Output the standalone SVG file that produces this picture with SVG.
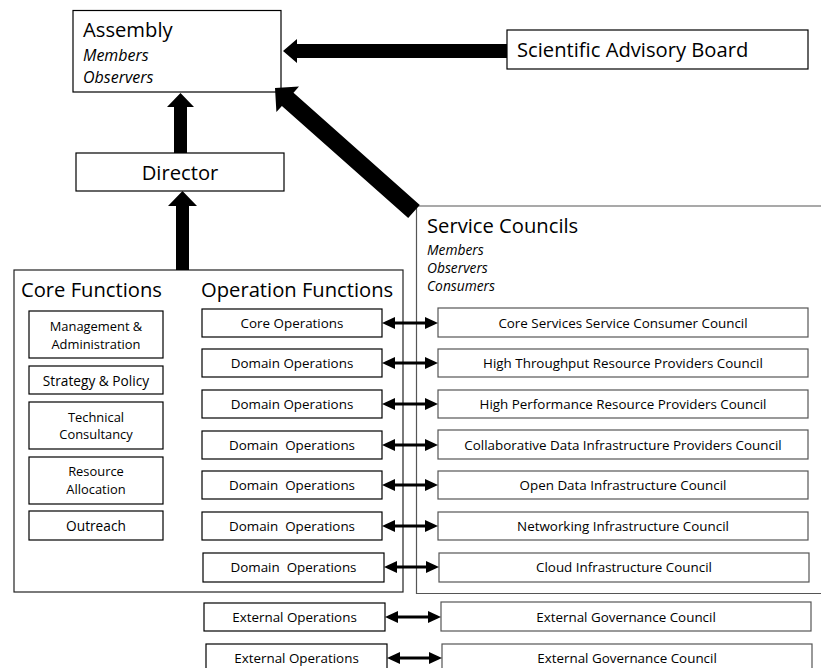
<svg xmlns="http://www.w3.org/2000/svg" width="821" height="668" viewBox="0 0 821 668">
<defs>
<style>
.bx{fill:#fff;stroke:#000;stroke-width:1.2}
.gb{fill:#fff;stroke:#555;stroke-width:1.2}
.ob{fill:none;stroke:#222;stroke-width:1.2}
.t{font-family:"Open Sans","Liberation Sans",sans-serif;fill:#000}
.h{font-size:20.2px}
.s{font-size:13.4px;text-anchor:middle}
.l{font-size:13.7px;text-anchor:middle}
.l2{font-size:12.9px;text-anchor:middle}
.i{font-style:italic}
.big{fill:#000}
.dl{stroke:#000;stroke-width:3;fill:none;marker-start:url(#ah);marker-end:url(#ah)}
</style>
<marker id="ah" viewBox="0 0 13 12" refX="0" refY="6" markerWidth="13" markerHeight="12" markerUnits="userSpaceOnUse" orient="auto-start-reverse">
<path d="M0,0 L13,6 L0,12 z" fill="#000"/>
</marker>
</defs>

<g id="service-councils">
<path class="gb" d="M830,206 H416.5 V593.5 H830"/>
<text class="t h" x="427" y="233">Service Councils</text>
<text class="t i" font-size="13.8" x="427" y="255">Members</text>
<text class="t i" font-size="13.8" x="427" y="273">Observers</text>
<text class="t i" font-size="13.8" x="427" y="291">Consumers</text>
</g>

<g id="core-functions">
<rect class="ob" x="14" y="270" width="389" height="322"/>
<text class="t h" x="21" y="297">Core Functions</text>
<text class="t h" x="201" y="297">Operation Functions</text>
</g>

<g id="assembly">
<rect class="bx" x="73" y="10.5" width="208" height="81.5"/>
<text class="t h" x="83" y="37">Assembly</text>
<text class="t i" font-size="16" x="83" y="61">Members</text>
<text class="t i" font-size="16" x="83" y="83">Observers</text>
</g>

<g id="sab">
<rect class="bx" x="507" y="30" width="301" height="39"/>
<text class="t h" x="517" y="57">Scientific Advisory Board</text>
</g>

<g id="director">
<rect class="bx" x="76" y="153" width="208" height="38"/>
<text class="t h" x="180" y="180" text-anchor="middle">Director</text>
</g>

<g id="cf-management"><rect class="bx" x="29" y="311" width="134" height="47"/><text class="t l2" x="96" y="331">Management &amp;</text><text class="t l2" x="96" y="348.8">Administration</text></g>
<g id="cf-strategy"><rect class="bx" x="29" y="366" width="134" height="28"/><text class="t l" x="96" y="386">Strategy &amp; Policy</text></g>
<g id="cf-technical"><rect class="bx" x="29" y="402" width="134" height="47"/><text class="t l2" x="96" y="421.5">Technical</text><text class="t l2" x="96" y="439.3">Consultancy</text></g>
<g id="cf-resource"><rect class="bx" x="29" y="457" width="134" height="47"/><text class="t l2" x="96" y="476">Resource</text><text class="t l2" x="96" y="493.8">Allocation</text></g>
<g id="cf-outreach"><rect class="bx" x="29" y="511" width="134" height="29"/><text class="t l" x="96" y="531">Outreach</text></g>

<g id="op-1"><rect class="bx" x="202" y="309" width="180" height="28"/><text class="t s" x="292" y="328">Core Operations</text></g>
<g id="op-2"><rect class="bx" x="202" y="349" width="180" height="28"/><text class="t s" x="292" y="368">Domain Operations</text></g>
<g id="op-3"><rect class="bx" x="202" y="390" width="180" height="28"/><text class="t s" x="292" y="409">Domain Operations</text></g>
<g id="op-4"><rect class="bx" x="202" y="431" width="180" height="28"/><text class="t s" x="292" y="450" xml:space="preserve">Domain  Operations</text></g>
<g id="op-5"><rect class="bx" x="202" y="471" width="180" height="28"/><text class="t s" x="292" y="490" xml:space="preserve">Domain  Operations</text></g>
<g id="op-6"><rect class="bx" x="202" y="512" width="180" height="28"/><text class="t s" x="292" y="531" xml:space="preserve">Domain  Operations</text></g>
<g id="op-7"><rect class="bx" x="203" y="553" width="181" height="29"/><text class="t s" x="293.5" y="572" xml:space="preserve">Domain  Operations</text></g>
<g id="op-8"><rect class="bx" x="204" y="603" width="181" height="28"/><text class="t s" x="294.5" y="622">External Operations</text></g>
<g id="op-9"><rect class="bx" x="206" y="644" width="181" height="30"/><text class="t s" x="296.5" y="663">External Operations</text></g>

<g id="sc-1"><rect class="gb" x="438" y="308" width="370" height="29"/><text class="t s" x="623" y="328">Core Services Service Consumer Council</text></g>
<g id="sc-2"><rect class="gb" x="438" y="349" width="370" height="28"/><text class="t s" x="623" y="368">High Throughput Resource Providers Council</text></g>
<g id="sc-3"><rect class="gb" x="438" y="390" width="370" height="28"/><text class="t s" x="623" y="409">High Performance Resource Providers Council</text></g>
<g id="sc-4"><rect class="gb" x="438" y="430" width="370" height="29"/><text class="t s" x="623" y="450">Collaborative Data Infrastructure Providers Council</text></g>
<g id="sc-5"><rect class="gb" x="438" y="471" width="370" height="28"/><text class="t s" x="623" y="490">Open Data Infrastructure Council</text></g>
<g id="sc-6"><rect class="gb" x="438" y="512" width="370" height="28"/><text class="t s" x="623" y="531">Networking Infrastructure Council</text></g>
<g id="sc-7"><rect class="gb" x="439" y="553" width="370" height="29"/><text class="t s" x="624" y="572">Cloud Infrastructure Council</text></g>
<g id="sc-8"><rect class="gb" x="441" y="602" width="370" height="29"/><text class="t s" x="626" y="622">External Governance Council</text></g>
<g id="sc-9"><rect class="gb" x="442" y="644" width="370" height="30"/><text class="t s" x="627" y="663">External Governance Council</text></g>

<g id="connectors">
<polygon class="big" points="283,51 297,39 297,44 507,44 507,58 297,58 297,63"/>
<polygon class="big" points="180.5,93 167,107 174,107 174,153 187,153 187,107 194,107"/>
<polygon class="big" points="182.5,191 168,206 176,206 176,270 189,270 189,206 197,206"/>
<polygon class="big" points="275,88 299,86.6 293.5,92.7 419.8,204.9 408.2,218.1 281.9,105.9 276.4,112"/>
<line class="dl" x1="395" y1="323" x2="425" y2="323"/>
<line class="dl" x1="395" y1="363" x2="425" y2="363"/>
<line class="dl" x1="395" y1="404" x2="425" y2="404"/>
<line class="dl" x1="395" y1="445" x2="425" y2="445"/>
<line class="dl" x1="395" y1="485" x2="425" y2="485"/>
<line class="dl" x1="395" y1="526" x2="425" y2="526"/>
<line class="dl" x1="397" y1="567" x2="426" y2="567"/>
<line class="dl" x1="398" y1="617" x2="428" y2="617"/>
<line class="dl" x1="400" y1="658" x2="429" y2="658"/>
</g>
</svg>
